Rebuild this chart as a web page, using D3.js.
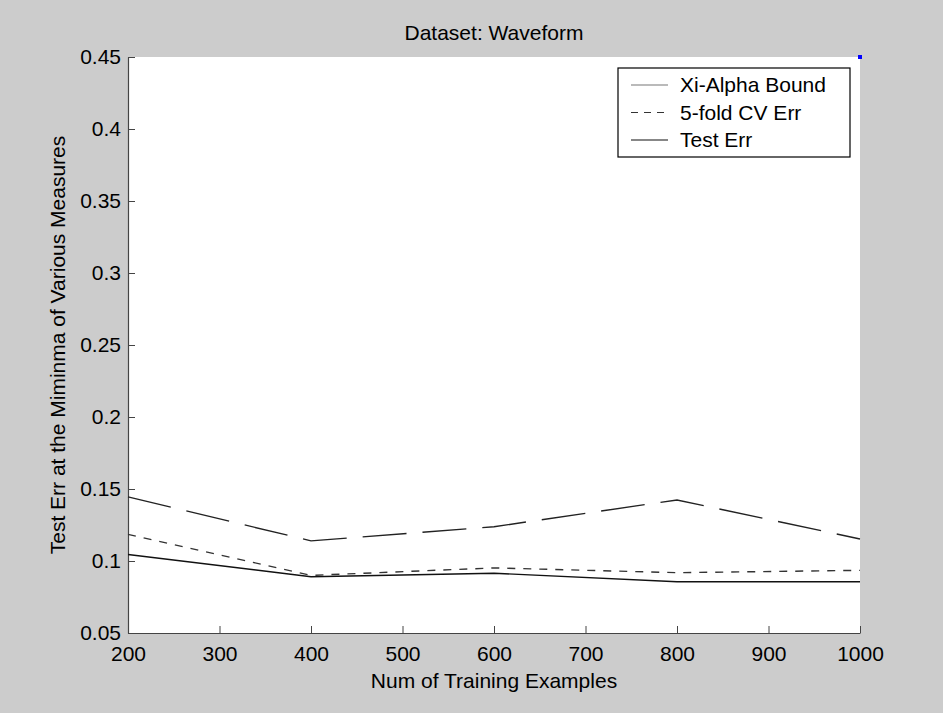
<!DOCTYPE html>
<html>
<head>
<meta charset="utf-8">
<script src="https://cdn.jsdelivr.net/npm/d3@7"></script>
<style>
  body { margin: 0; background: #cccccc; }
  svg { display: block; font-family: "Liberation Sans", Arial, sans-serif; }
  .axis text { font-size: 21px; fill: #000; }
  .axis path, .axis line { stroke: #444; }
</style>
</head>
<body>
<script>
// data
var trainSizes = [200, 400, 600, 800, 1000];
var xiAlphaErr = [0.1445, 0.114, 0.1238, 0.1424, 0.1153];
var cvErr = [0.1185, 0.0900, 0.0952, 0.0919, 0.0935];
var testErr = [0.1045, 0.0891, 0.0915, 0.0856, 0.0856];
var bluePoint = [1000, 0.45];

var xTicks = [200, 300, 400, 500, 600, 700, 800, 900, 1000];
var yTicks = [0.05, 0.1, 0.15, 0.2, 0.25, 0.3, 0.35, 0.4, 0.45];
var yTickLabels = ['0.05', '0.1', '0.15', '0.2', '0.25', '0.3', '0.35', '0.4', '0.45'];
var seriesNames = ['Xi-Alpha Bound', '5-fold CV Err', 'Test Err'];

var width = 943, height = 713;
var margin = {top: 57, right: 83, bottom: 80, left: 128};
var w = width - margin.left - margin.right,
    h = height - margin.top - margin.bottom;

var x = d3.scaleLinear().domain([200, 1000]).range([0, w]);
var y = d3.scaleLinear().domain([0.05, 0.45]).range([h, 0]);

var svg = d3.select('body').append('svg')
  .attr('width', width)
  .attr('height', height);

svg.append('rect')
  .attr('width', width).attr('height', height)
  .attr('fill', '#cccccc');

var g = svg.append('g')
  .attr('transform', 'translate(' + margin.left + ',' + margin.top + ')');

g.append('rect')
  .attr('width', w).attr('height', h)
  .attr('fill', '#ffffff');

// axes, ticks pointing inwards like matlab
g.append('g')
  .attr('class', 'axis')
  .attr('transform', 'translate(0,' + h + ')')
  .call(d3.axisBottom(x).tickValues(xTicks).tickSizeInner(-7).tickSizeOuter(0).tickPadding(13)
    .tickFormat(d3.format('d')))
  .call(function(a) { a.select('.domain').attr('stroke-width', 1.2); });

g.append('g')
  .attr('class', 'axis')
  .call(d3.axisLeft(y).tickValues(yTicks).tickSizeInner(-7).tickSizeOuter(0).tickPadding(7)
    .tickFormat(function(d, i) { return yTickLabels[i]; }))
  .call(function(a) { a.select('.domain').attr('stroke-width', 1.2); });

var series = [
  {name: seriesNames[0], values: xiAlphaErr, dash: '44,16', color: '#222'},
  {name: seriesNames[1], values: cvErr, dash: '8,8', color: '#333'},
  {name: seriesNames[2], values: testErr, dash: null, color: '#111'}
];

var line = d3.line()
  .x(function(d) { return x(d[0]); })
  .y(function(d) { return y(d[1]); });

series.forEach(function(s) {
  g.append('path')
    .datum(trainSizes.map(function(t, i) { return [t, s.values[i]]; }))
    .attr('d', line)
    .attr('fill', 'none')
    .attr('stroke', s.color)
    .attr('stroke-width', 1.4)
    .attr('stroke-dasharray', s.dash);
});

// the little blue marker in the top right corner
g.append('rect')
  .attr('x', x(bluePoint[0]) - 2)
  .attr('y', y(bluePoint[1]) - 2)
  .attr('width', 4).attr('height', 4)
  .attr('fill', '#0000ff');

// legend
var leg = svg.append('g').attr('transform', 'translate(618,68)');
leg.append('rect')
  .attr('width', 232).attr('height', 89)
  .attr('fill', '#fff')
  .attr('stroke', '#000')
  .attr('stroke-width', 1.2);

series.forEach(function(s, i) {
  var yy = 17 + i * 27.5;
  leg.append('line')
    .attr('x1', 13).attr('x2', 50)
    .attr('y1', yy).attr('y2', yy)
    .attr('stroke', i == 0 ? '#777' : s.color)
    .attr('stroke-width', 1.2)
    .attr('stroke-dasharray', i == 1 ? '7,6' : null);
  leg.append('text')
    .attr('x', 62).attr('y', yy)
    .attr('dy', '0.35em')
    .style('font-size', '21px')
    .text(s.name);
});

// titles
svg.append('text')
  .attr('x', margin.left + w / 2).attr('y', 40)
  .attr('text-anchor', 'middle')
  .style('font-size', '21px')
  .text('Dataset: Waveform');

svg.append('text')
  .attr('x', margin.left + w / 2).attr('y', 688)
  .attr('text-anchor', 'middle')
  .style('font-size', '21px')
  .text('Num of Training Examples');

svg.append('text')
  .attr('transform', 'translate(65,' + (margin.top + h / 2) + ') rotate(-90)')
  .attr('text-anchor', 'middle')
  .style('font-size', '21px')
  .text('Test Err at the Miminma of Various Measures');
</script>
</body>
</html>
